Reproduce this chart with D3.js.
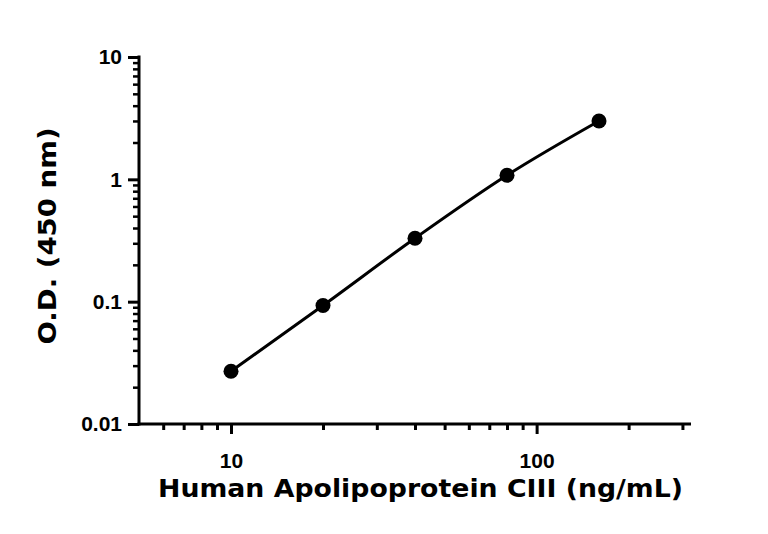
<!DOCTYPE html>
<html>
<head>
<meta charset="utf-8">
<script src="https://cdn.jsdelivr.net/npm/d3@7"></script>
<style>
  body { margin: 0; background: #fff; }
</style>
</head>
<body>
<div id="container"></div>
<script>
/* DATA */
const concentration = [10, 20, 40, 80, 160];
const od = [0.027, 0.093, 0.33, 1.08, 3.0];
const xTickValues = [10, 100];
const yTickValues = [0.01, 0.1, 1, 10];
const xTitle = "Human Apolipoprotein CIII (ng/mL)";
const yTitle = "O.D. (450 nm)";

/* CONSTANTS */
const W = 768, H = 534;
const margin = {top: 57, right: 77, bottom: 110, left: 139};
const width = W - margin.left - margin.right,
      height = H - margin.top - margin.bottom;

const svg = d3.select("#container")
  .append("svg")
  .attr("width", W)
  .attr("height", H)
  .append("g")
  .attr("transform", `translate(${margin.left},${margin.top})`);

// SCALES
const xScale = d3.scaleLog().domain([5, 320]).range([0, width]);
const yScale = d3.scaleLog().domain([0.01, 10]).range([height, 0]);

// minor ticks
const xMinor = [6, 7, 8, 9, 20, 30, 40, 50, 60, 70, 80, 90, 200, 300];
const yMinor = [];
[0.01, 0.1, 1].forEach(d => { for (let k = 2; k <= 9; k++) yMinor.push(d * k); });

const tickFont = "'Liberation Sans', Arial, sans-serif";

// X AXIS
const xAxis = svg.append("g")
  .attr("transform", `translate(0,${height})`);
xAxis.append("g")
  .call(d3.axisBottom(xScale).tickValues(xMinor).tickSize(6).tickFormat(""))
  .call(g => g.select(".domain").remove())
  .selectAll("line").attr("stroke", "#000").attr("stroke-width", 3);
xAxis.append("g")
  .call(d3.axisBottom(xScale).tickValues(xTickValues).tickSize(10).tickPadding(19)
    .tickFormat(d3.format("d")))
  .call(g => g.select(".domain").remove())
  .call(g => g.selectAll("line").attr("stroke", "#000").attr("stroke-width", 3))
  .call(g => g.selectAll("text")
    .attr("font-family", tickFont).attr("font-weight", "bold")
    .attr("font-size", 21).attr("fill", "#000"));
xAxis.append("line")
  .attr("x1", -1.5).attr("x2", width)
  .attr("stroke", "#000").attr("stroke-width", 3);

// Y AXIS
const yAxis = svg.append("g");
yAxis.append("g")
  .call(d3.axisLeft(yScale).tickValues(yMinor).tickSize(6).tickFormat(""))
  .call(g => g.select(".domain").remove())
  .selectAll("line").attr("stroke", "#000").attr("stroke-width", 2.5);
yAxis.append("g")
  .call(d3.axisLeft(yScale).tickValues(yTickValues).tickSize(11).tickPadding(6)
    .tickFormat(d => d >= 1 ? d3.format("d")(d) : d3.format(".2~f")(d)))
  .call(g => g.select(".domain").remove())
  .call(g => g.selectAll("line").attr("stroke", "#000").attr("stroke-width", 3))
  .call(g => g.selectAll("text")
    .attr("font-family", tickFont).attr("font-weight", "bold")
    .attr("font-size", 21).attr("fill", "#000"));
yAxis.append("line")
  .attr("y1", -1.5).attr("y2", height + 1.5)
  .attr("stroke", "#000").attr("stroke-width", 3);

// CURVE
const pts = concentration.map((c, i) => ({x: c, y: od[i]}));
svg.append("path")
  .datum(pts)
  .attr("fill", "none")
  .attr("stroke", "#000")
  .attr("stroke-width", 3)
  .attr("d", d3.line()
    .x(d => xScale(d.x))
    .y(d => yScale(d.y))
    .curve(d3.curveMonotoneX));

// POINTS
svg.selectAll("circle.dot")
  .data(pts)
  .join("circle")
  .attr("class", "dot")
  .attr("fill", "#000")
  .attr("cx", d => xScale(d.x))
  .attr("cy", d => yScale(d.y))
  .attr("r", 7.5);

// TITLES
const titleFont = "'DejaVu Sans', sans-serif";
svg.append("text")
  .attr("x", 281.5)
  .attr("y", height + 73)
  .attr("text-anchor", "middle")
  .attr("font-family", titleFont)
  .attr("font-weight", "bold")
  .attr("font-size", 25)
  .attr("textLength", 525)
  .attr("lengthAdjust", "spacingAndGlyphs")
  .attr("fill", "#000")
  .text(xTitle);

svg.append("text")
  .attr("transform", `translate(${-83},${179 }) rotate(-90)`)
  .attr("text-anchor", "middle")
  .attr("font-family", titleFont)
  .attr("font-weight", "bold")
  .attr("font-size", 25)
  .attr("textLength", 217)
  .attr("lengthAdjust", "spacingAndGlyphs")
  .attr("fill", "#000")
  .text(yTitle);
</script>
</body>
</html>
